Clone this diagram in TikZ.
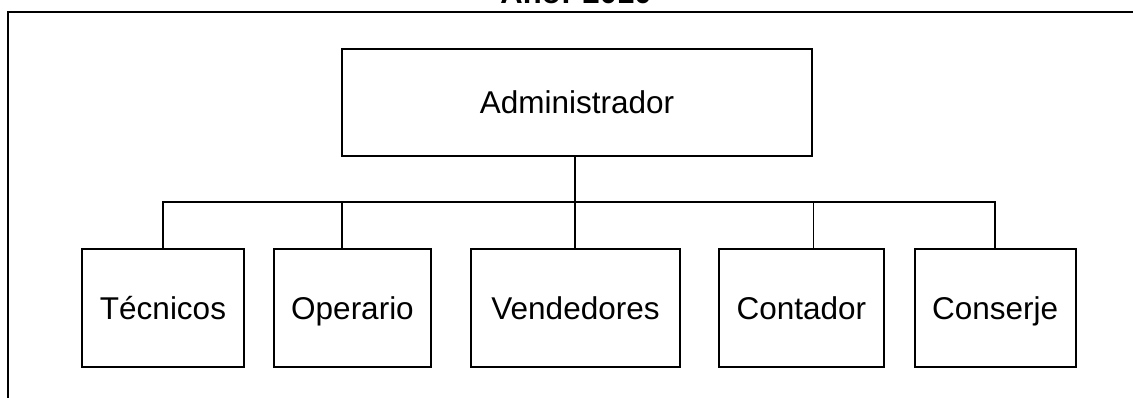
\documentclass[tikz,border=0pt]{standalone}
\usepackage{fontspec}
\setmainfont{Liberation Sans}
\begin{document}
\begin{tikzpicture}[x=1pt,y=-1pt,
  lin/.style={line width=1.6pt, line cap=rect},
  box/.style={draw, line width=1.6pt, rectangle, inner sep=0pt,
    font=\fontsize{31.5}{38}\selectfont, text height=22.5pt, text depth=0pt}]
\useasboundingbox (0,0) rectangle (1133,398);
\fill[white] (0,0) rectangle (1133,398);
% frame
\draw[lin] (8,400) -- (8,12) -- (1140,12);
% title (cut off at the top edge)
\node[anchor=base, inner sep=0pt, font=\bfseries\fontsize{31}{37}\selectfont] (title) at (576,4) {Año: 2010};
% boxes
\node[box, minimum width=470pt, minimum height=107pt] (adm) at (577,102.5) {Administrador};
\node[box, minimum width=162pt, minimum height=118pt] (tec) at (163,308) {Técnicos};
\node[box, minimum width=157pt, minimum height=118pt] (opr) at (352.5,308) {Operario};
\node[box, minimum width=209pt, minimum height=118pt] (ven) at (575.5,308) {Vendedores};
\node[box, minimum width=165pt, minimum height=118pt] (cnt) at (801.3,308) {Contador};
\node[box, minimum width=161pt, minimum height=118pt] (cns) at (995.2,308) {Conserje};
% connectors
\coordinate (bus) at (575,202);
\coordinate (oprtop) at ([xshift=-10.5pt]opr.north);
\coordinate (cnttop) at ([xshift=12pt]cnt.north);
\draw[lin] (adm.south -| bus) -- (bus);
\draw[lin] (tec.north |- bus) -- (cns.north |- bus);
\draw[lin] (tec.north) -- (tec.north |- bus);
\draw[lin] (oprtop) -- (oprtop |- bus);
\draw[lin] (ven.north -| bus) -- (bus);
\draw[lin] (cnttop) -- (cnttop |- bus);
\draw[lin] (cns.north) -- (cns.north |- bus);
\end{tikzpicture}
\end{document}
